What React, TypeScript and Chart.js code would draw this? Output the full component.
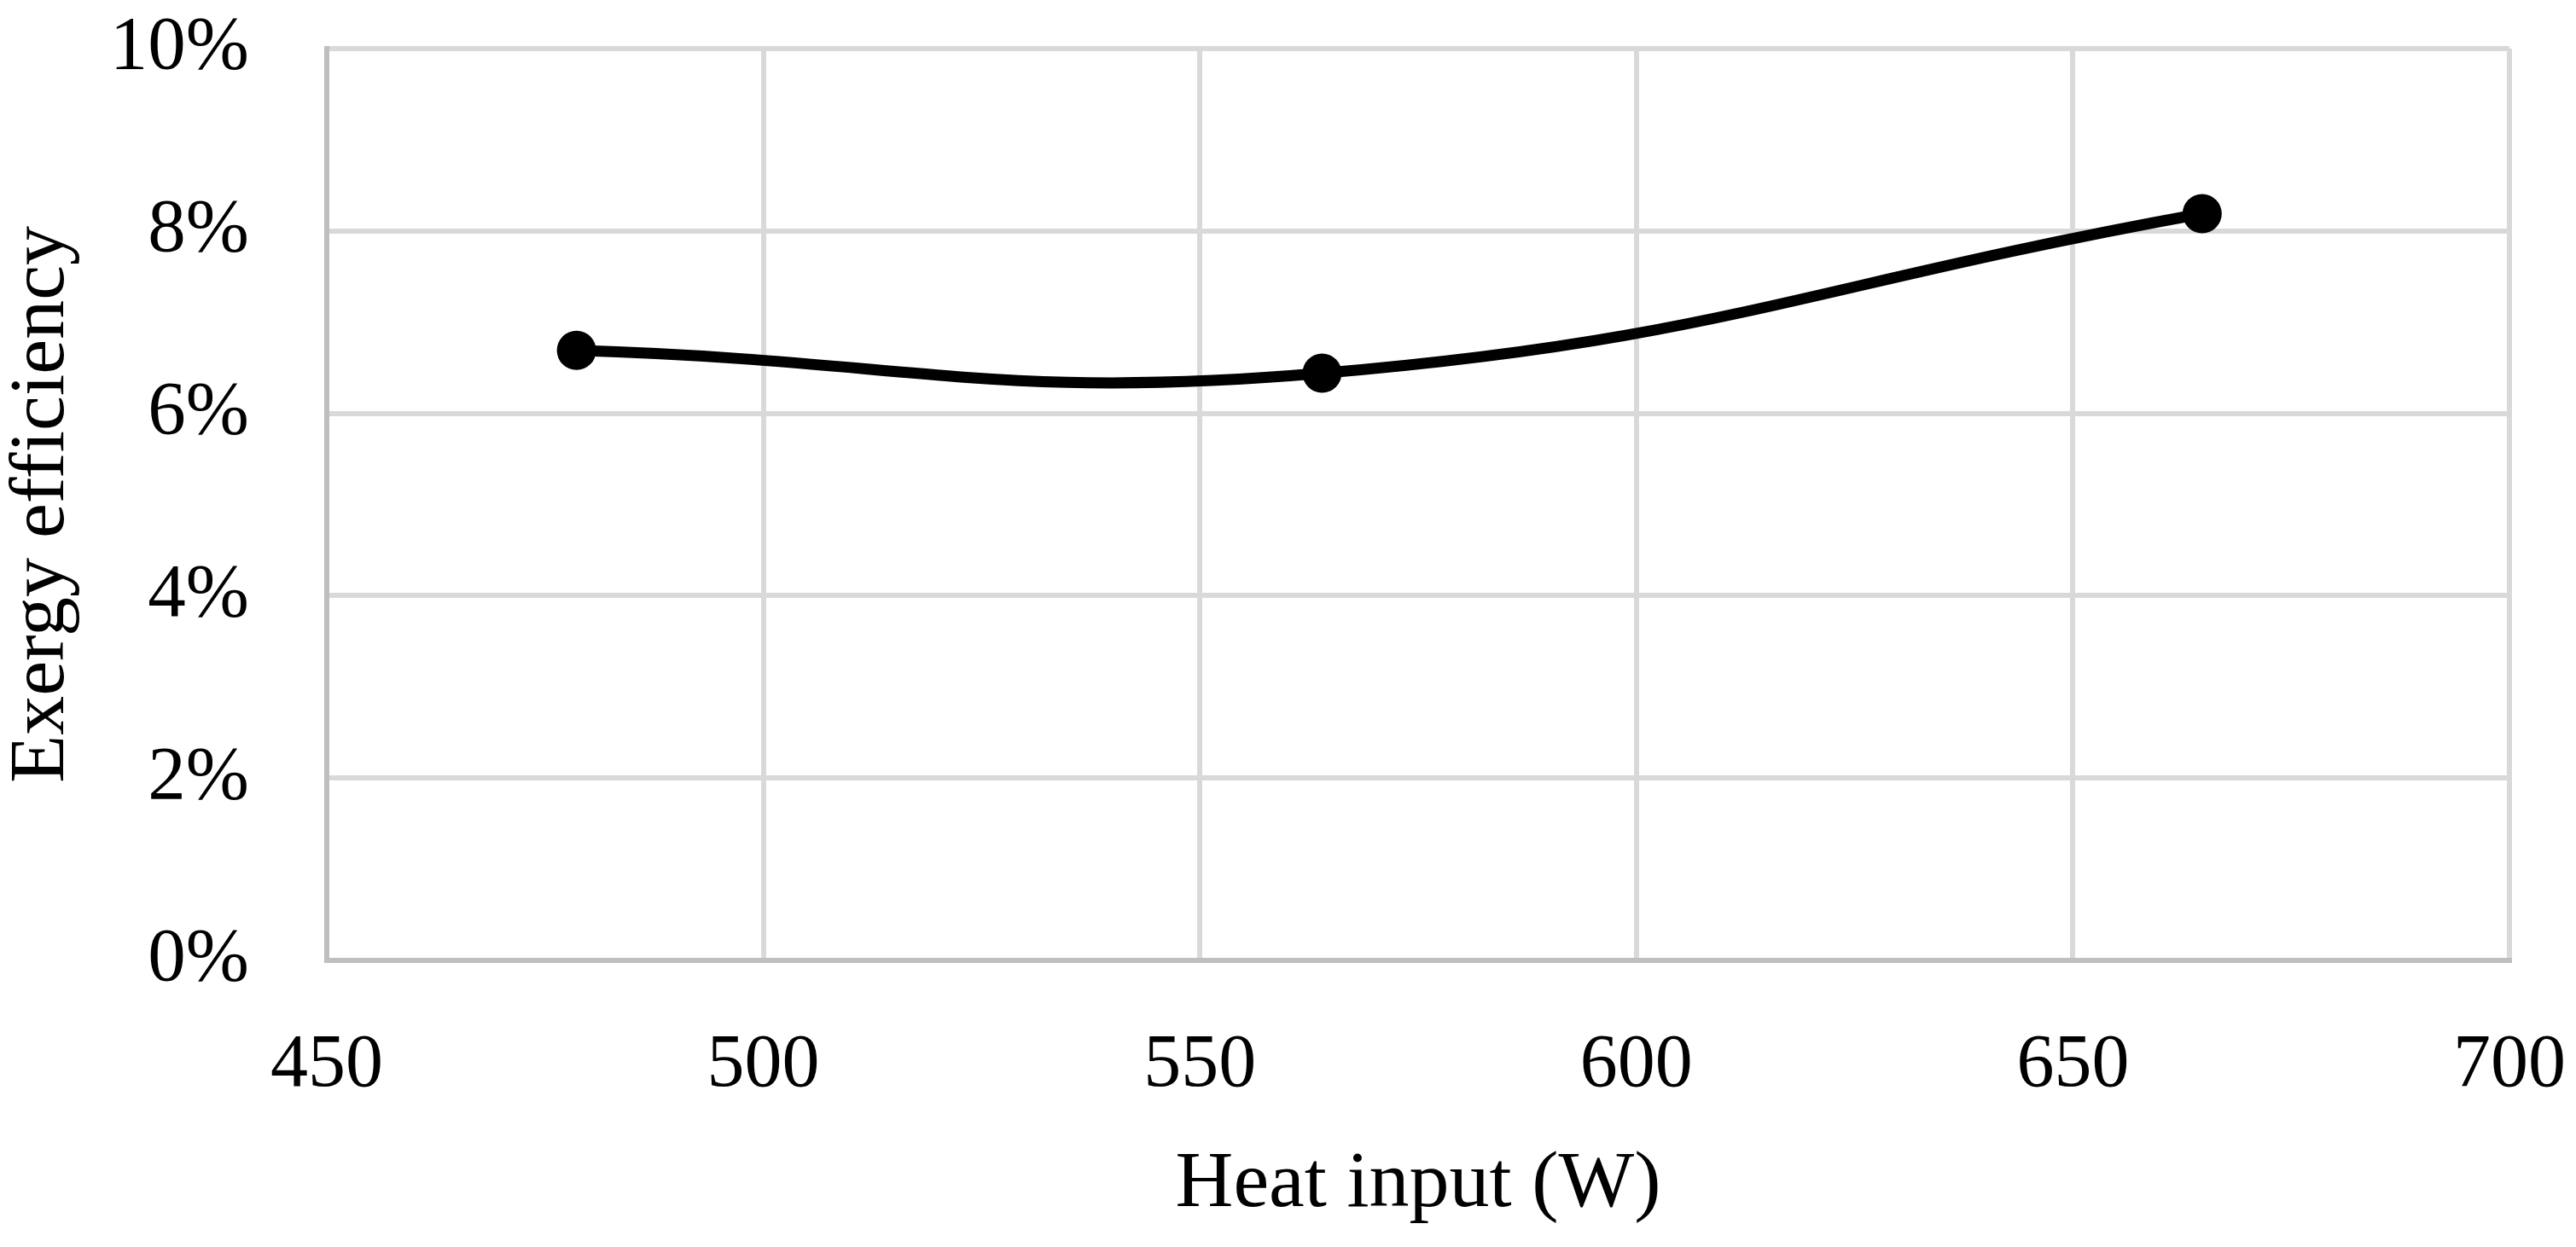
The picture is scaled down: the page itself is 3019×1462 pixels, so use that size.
import { useEffect, useRef } from "react";
import { Chart, registerables } from "chart.js";

Chart.register(...registerables);

// Heat input (W) and exergy efficiency (%)
const heatInput = [478.6, 564, 664.8];
const exergyEfficiency = [6.69, 6.44, 8.19];

const xTicks = [450, 500, 550, 600, 650, 700];
const yTicks = [0, 2, 4, 6, 8, 10];

const FONT = "'Liberation Serif', 'Times New Roman', serif";

export default function App() {
  const chartRef = useRef<HTMLCanvasElement>(null);
  const chartInstance = useRef<Chart | null>(null);

  useEffect(() => {
    if (!chartRef.current) return;

    if (chartInstance.current) {
      chartInstance.current.destroy();
    }

    const ctx = chartRef.current.getContext("2d");
    if (!ctx) return;

    chartInstance.current = new Chart(ctx, {
      type: "line",
      data: {
        datasets: [
          {
            label: "Exergy efficiency",
            data: heatInput.map((x, i) => ({ x, y: exergyEfficiency[i] })),
            borderColor: "#000000",
            backgroundColor: "#000000",
            borderWidth: 13,
            tension: 0.45,
            pointRadius: 23,
            pointHoverRadius: 23,
            pointBorderWidth: 0,
            pointBackgroundColor: "#000000",
            fill: false,
          },
        ],
      },
      options: {
        animation: false,
        responsive: true,
        maintainAspectRatio: false,
        layout: {
          padding: { top: 49, right: 70, left: 0, bottom: 0 },
        },
        scales: {
          x: {
            type: "linear",
            position: "bottom",
            min: xTicks[0],
            max: xTicks[xTicks.length - 1],
            afterBuildTicks: (axis) => {
              axis.ticks = xTicks.map((value) => ({ value }));
            },
            afterFit: (axis) => {
              axis.height = 328;
            },
            ticks: {
              color: "#000000",
              padding: 0,
              maxRotation: 0,
              font: { family: FONT, size: 88, lineHeight: 1 },
            },
            grid: {
              color: "#d9d9d9",
              lineWidth: 6,
              drawTicks: true,
              tickLength: 80,
              tickColor: "rgba(0,0,0,0)",
            },
            border: {
              display: true,
              color: "#bfbfbf",
              width: 6,
            },
            title: {
              display: true,
              text: "Heat input (W)",
              color: "#000000",
              padding: { top: 0, bottom: 8 },
              font: { family: FONT, size: 94, lineHeight: 1.2 },
            },
          },
          y: {
            type: "linear",
            min: yTicks[0],
            max: yTicks[yTicks.length - 1],
            afterBuildTicks: (axis) => {
              axis.ticks = yTicks.map((value) => ({ value }));
            },
            afterFit: (axis) => {
              axis.width = 375;
            },
            ticks: {
              color: "#000000",
              padding: 0,
              callback: (value) => `${value}%`,
              font: { family: FONT, size: 89, lineHeight: 1 },
            },
            grid: {
              color: "#d9d9d9",
              lineWidth: 6,
              drawTicks: true,
              tickLength: 91,
              tickColor: "rgba(0,0,0,0)",
            },
            border: {
              display: true,
              color: "#bfbfbf",
              width: 6,
            },
            title: {
              display: true,
              text: "Exergy efficiency",
              color: "#000000",
              padding: 0,
              font: { family: FONT, size: 92, lineHeight: 0.9 },
            },
          },
        },
        plugins: {
          legend: { display: false },
          tooltip: { enabled: false },
        },
      },
    });

    return () => {
      if (chartInstance.current) {
        chartInstance.current.destroy();
        chartInstance.current = null;
      }
    };
  }, []);

  return (
    <div style={{ width: "100%", height: "1446px", position: "relative" }}>
      <canvas ref={chartRef} />
    </div>
  );
}
